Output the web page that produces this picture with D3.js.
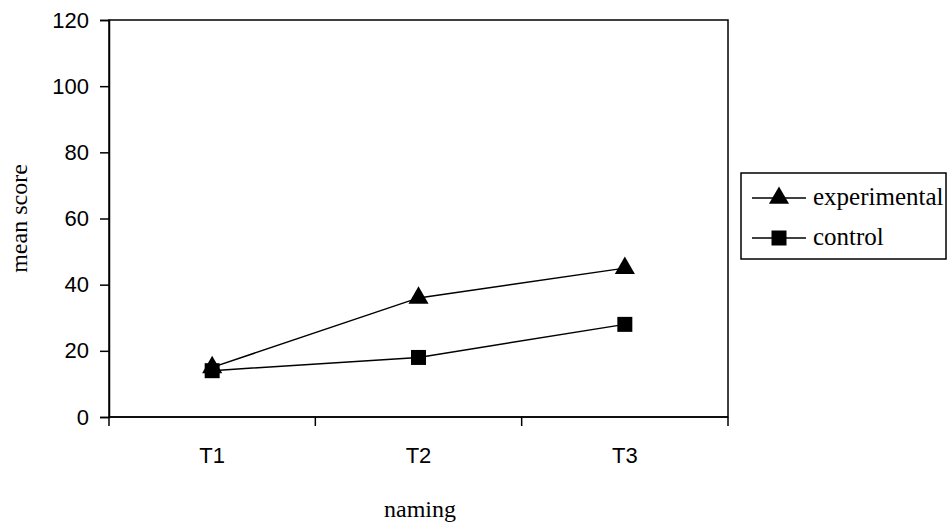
<!DOCTYPE html>
<html>
<head>
<meta charset="utf-8">
<script src="https://cdn.jsdelivr.net/npm/d3@7"></script>
<style>
  body { margin: 0; background: #fff; }
  svg { display: block; }
  .sans { font-family: "Liberation Sans", Arial, sans-serif; }
  .serif { font-family: "Liberation Serif", "Times New Roman", serif; }
</style>
</head>
<body>
<div id="chart"></div>
<script>
// data
let categories = ["T1", "T2", "T3"]
let experimental = [15, 36, 45]
let control = [14, 18, 28]
let yTicks = [0, 20, 40, 60, 80, 100, 120]

let width = 949, height = 528
let plot = { left: 109, top: 20, right: 728, bottom: 417 }

let svg = d3.select("#chart").append("svg")
    .attr("width", width)
    .attr("height", height)

let x = d3.scaleBand()
    .domain(categories)
    .range([plot.left, plot.right])

let y = d3.scaleLinear()
    .domain([0, 120])
    .range([plot.bottom, plot.top])

// plot frame
svg.append("rect")
    .attr("x", plot.left)
    .attr("y", plot.top)
    .attr("width", plot.right - plot.left)
    .attr("height", plot.bottom - plot.top)
    .attr("fill", "none")
    .attr("stroke", "#000")
    .attr("stroke-width", 1.5)

// y axis
let yAxis = svg.append("g")
    .attr("transform", "translate(" + plot.left + ",0)")
    .call(d3.axisLeft(y).tickValues(yTicks).tickSize(9).tickPadding(11))
yAxis.attr("font-family", null).attr("font-size", null)
yAxis.select(".domain").attr("stroke-width", 1.5)
yAxis.selectAll(".tick line").attr("stroke-width", 1.5)
yAxis.selectAll("text")
    .attr("class", "sans")
    .style("font-size", "22px")
    .attr("fill", "#000")

// x axis: ticks on band edges, labels centred
let xAxis = svg.append("g")
    .attr("transform", "translate(0," + plot.bottom + ")")
xAxis.append("line")
    .attr("x1", plot.left).attr("x2", plot.right)
    .attr("stroke", "#000").attr("stroke-width", 1.5)
let edges = categories.map(c => x(c)).concat([x(categories[categories.length - 1]) + x.bandwidth()])
xAxis.selectAll("line.tick").data(edges).enter().append("line")
    .attr("class", "tick")
    .attr("x1", d => d).attr("x2", d => d)
    .attr("y1", 0).attr("y2", 9)
    .attr("stroke", "#000").attr("stroke-width", 1.5)
xAxis.selectAll("text").data(categories).enter().append("text")
    .attr("class", "sans")
    .attr("x", d => x(d) + x.bandwidth() / 2)
    .attr("y", 46)
    .attr("text-anchor", "middle")
    .style("font-size", "22px")
    .text(d => d)

// axis titles
svg.append("text")
    .attr("class", "serif")
    .attr("transform", "translate(27," + (plot.top + plot.bottom) / 2 + ") rotate(-90)")
    .attr("text-anchor", "middle")
    .style("font-size", "24px")
    .text("mean score")

svg.append("text")
    .attr("class", "serif")
    .attr("x", 420)
    .attr("y", 517)
    .attr("text-anchor", "middle")
    .style("font-size", "24px")
    .text("naming")

// series
let cx = c => x(c) + x.bandwidth() / 2
let line = d3.line()
    .x((d, i) => cx(categories[i]))
    .y(d => y(d))

let triangle = d3.symbol().type(d3.symbolTriangle).size(175)
let square = d3.symbol().type(d3.symbolSquare).size(225)

let series = [
    { name: "experimental", values: experimental, symbol: triangle },
    { name: "control", values: control, symbol: square }
]

series.forEach(s => {
    svg.append("path")
        .attr("d", line(s.values))
        .attr("fill", "none")
        .attr("stroke", "#000")
        .attr("stroke-width", 1.5)
    svg.selectAll(null).data(s.values).enter().append("path")
        .attr("d", s.symbol())
        .attr("transform", (d, i) => "translate(" + cx(categories[i]) + "," + y(d) + ")")
        .attr("fill", "#000")
})

// legend
let legend = svg.append("g").attr("transform", "translate(741,173)")
legend.append("rect")
    .attr("width", 205)
    .attr("height", 86)
    .attr("fill", "#fff")
    .attr("stroke", "#000")
    .attr("stroke-width", 1.5)

series.forEach((s, i) => {
    let ly = 25 + i * 40
    legend.append("line")
        .attr("x1", 11).attr("x2", 65)
        .attr("y1", ly).attr("y2", ly)
        .attr("stroke", "#000").attr("stroke-width", 1.5)
    legend.append("path")
        .attr("d", s.symbol())
        .attr("transform", "translate(38," + ly + ")")
        .attr("fill", "#000")
    legend.append("text")
        .attr("class", "serif")
        .attr("x", 72)
        .attr("y", ly + 7)
        .style("font-size", "25px")
        .text(s.name)
})
</script>
</body>
</html>
